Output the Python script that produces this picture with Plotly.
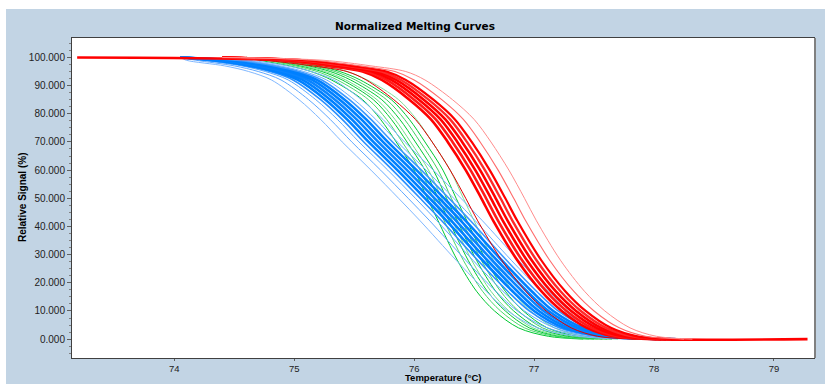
import plotly.graph_objects as go

LEVELS = [100, 99, 97, 95, 92, 85, 78, 70, 60, 50, 42, 28, 17, 10, 4, 1, 0]

# Temperatures (°C) at which each curve reaches the signal levels above
RED_CURVES = [
    [74.40, 74.75, 75.15, 75.44, 75.60, 75.83, 76.01, 76.15, 76.30, 76.43, 76.53, 76.73, 76.93, 77.10, 77.31, 77.53, 77.85],
    [73.19, 74.88, 75.28, 75.57, 75.73, 75.96, 76.14, 76.28, 76.43, 76.56, 76.66, 76.86, 77.06, 77.23, 77.44, 77.66, 77.98],
    [74.40, 74.92, 75.32, 75.61, 75.77, 76.00, 76.18, 76.32, 76.47, 76.60, 76.70, 76.90, 77.10, 77.27, 77.48, 77.70, 78.02],
    [74.40, 74.96, 75.36, 75.65, 75.81, 76.04, 76.22, 76.36, 76.51, 76.64, 76.74, 76.94, 77.14, 77.31, 77.52, 77.74, 78.06],
    [74.40, 75.00, 75.40, 75.69, 75.85, 76.08, 76.26, 76.40, 76.55, 76.68, 76.78, 76.98, 77.18, 77.35, 77.56, 77.78, 78.10],
    [74.40, 75.04, 75.44, 75.73, 75.89, 76.12, 76.30, 76.44, 76.59, 76.72, 76.82, 77.02, 77.22, 77.39, 77.60, 77.82, 78.14],
    [74.40, 75.08, 75.48, 75.77, 75.93, 76.16, 76.34, 76.48, 76.63, 76.76, 76.86, 77.06, 77.26, 77.43, 77.64, 77.86, 78.18],
    [74.40, 75.15, 75.55, 75.84, 76.00, 76.23, 76.41, 76.55, 76.70, 76.83, 76.93, 77.13, 77.33, 77.50, 77.71, 77.93, 78.25],
    [74.40, 75.24, 75.64, 75.93, 76.09, 76.32, 76.50, 76.64, 76.79, 76.92, 77.02, 77.22, 77.42, 77.59, 77.80, 78.02, 78.32],
]
RED_LONG_INDEX = 1       # this red curve stays at 0 % up to the tail below
RED_LONG_TAIL = 79.28

GREEN_CURVES = [
    [74.60, 74.71, 74.96, 75.14, 75.31, 75.57, 75.72, 75.85, 76.00, 76.11, 76.20, 76.36, 76.52, 76.67, 76.87, 77.12, 77.41],
    [74.60, 74.76, 75.01, 75.19, 75.36, 75.62, 75.77, 75.90, 76.05, 76.16, 76.25, 76.41, 76.57, 76.72, 76.92, 77.17, 77.46],
    [74.60, 74.80, 75.05, 75.23, 75.40, 75.66, 75.81, 75.94, 76.09, 76.20, 76.29, 76.45, 76.61, 76.76, 76.96, 77.21, 77.50],
    [74.60, 74.83, 75.08, 75.26, 75.43, 75.69, 75.84, 75.97, 76.12, 76.23, 76.32, 76.48, 76.64, 76.79, 76.99, 77.24, 77.53],
    [74.60, 74.87, 75.12, 75.30, 75.47, 75.73, 75.88, 76.01, 76.16, 76.27, 76.36, 76.52, 76.68, 76.83, 77.03, 77.28, 77.57],
    [74.60, 74.91, 75.16, 75.34, 75.51, 75.77, 75.92, 76.05, 76.20, 76.31, 76.40, 76.56, 76.72, 76.87, 77.07, 77.32, 77.61],
    [74.60, 74.95, 75.20, 75.38, 75.55, 75.81, 75.96, 76.09, 76.24, 76.35, 76.44, 76.60, 76.76, 76.91, 77.11, 77.36, 77.65],
    [74.60, 75.01, 75.26, 75.44, 75.61, 75.87, 76.02, 76.15, 76.30, 76.41, 76.50, 76.66, 76.82, 76.97, 77.17, 77.42, 77.70],
]

BLUE_LIGHT_CURVES = [
    [74.05, 74.10, 74.42, 74.62, 74.81, 75.04, 75.22, 75.40, 75.64, 75.87, 76.05, 76.35, 76.60, 76.78, 77.03, 77.36, 77.80],
    [74.05, 74.18, 74.50, 74.70, 74.89, 75.12, 75.30, 75.48, 75.72, 75.95, 76.13, 76.43, 76.68, 76.86, 77.11, 77.44, 77.88],
    [74.05, 74.62, 74.94, 75.14, 75.33, 75.56, 75.74, 75.92, 76.16, 76.39, 76.57, 76.87, 77.12, 77.30, 77.55, 77.88, 78.25],
]
BLUE_CURVES = [
    [74.05, 74.24, 74.56, 74.76, 74.95, 75.18, 75.36, 75.54, 75.78, 76.01, 76.19, 76.49, 76.74, 76.92, 77.17, 77.50, 77.94],
    [74.05, 74.28, 74.60, 74.80, 74.99, 75.22, 75.40, 75.58, 75.82, 76.05, 76.23, 76.53, 76.78, 76.96, 77.21, 77.54, 77.98],
    [74.05, 74.32, 74.64, 74.84, 75.03, 75.26, 75.44, 75.62, 75.86, 76.09, 76.27, 76.57, 76.82, 77.00, 77.25, 77.58, 78.02],
    [74.05, 74.36, 74.68, 74.88, 75.07, 75.30, 75.48, 75.66, 75.90, 76.13, 76.31, 76.61, 76.86, 77.04, 77.29, 77.62, 78.06],
    [74.05, 74.40, 74.72, 74.92, 75.11, 75.34, 75.52, 75.70, 75.94, 76.17, 76.35, 76.65, 76.90, 77.08, 77.33, 77.66, 78.10],
    [74.05, 74.44, 74.76, 74.96, 75.15, 75.38, 75.56, 75.74, 75.98, 76.21, 76.39, 76.69, 76.94, 77.12, 77.37, 77.70, 78.14],
    [74.05, 74.48, 74.80, 75.00, 75.19, 75.42, 75.60, 75.78, 76.02, 76.25, 76.43, 76.73, 76.98, 77.16, 77.41, 77.74, 78.18],
    [74.05, 74.52, 74.84, 75.04, 75.23, 75.46, 75.64, 75.82, 76.06, 76.29, 76.47, 76.77, 77.02, 77.20, 77.45, 77.78, 78.22],
    [74.05, 74.56, 74.88, 75.08, 75.27, 75.50, 75.68, 75.86, 76.10, 76.33, 76.51, 76.81, 77.06, 77.24, 77.49, 77.82, 78.24],
]

RED_STYLE = [("#E00000", 1.0), ("#FF0000", 2.6), ("#FF1A1A", 2.6), ("#FF0000", 2.6), ("#FF0000", 2.6),
             ("#FF2A2A", 2.4), ("#FF0000", 2.2), ("#FF6A6A", 1.1), ("#FF8C8C", 1.0)]
GREEN_STYLE = [("#00C832", 1.0), ("#4CD86C", 1.0), ("#00C832", 1.0), ("#70E08A", 1.0),
               ("#00C832", 1.0), ("#40D060", 1.0), ("#00C832", 1.0), ("#80E098", 1.0)]
BLUE_LIGHT_STYLE = [("#80B8FF", 1.0), ("#60A8FF", 1.0), ("#78B4FF", 1.0)]
BLUE_STYLE = [("#5AA8FF", 1.0), ("#2A90FF", 1.6), ("#0080FF", 2.6), ("#0080FF", 2.6), ("#0A84FF", 2.6),
              ("#0080FF", 2.6), ("#0080FF", 2.6), ("#3A98FF", 1.6), ("#6AB0FF", 1.0)]

fig = go.Figure()


def add_curve(temps, levels, color, width):
    fig.add_trace(go.Scatter(
        x=temps, y=levels, mode="lines",
        line=dict(color=color, width=width, shape="spline", smoothing=0.9),
        hoverinfo="skip", showlegend=False))


for temps, (c, w) in zip(GREEN_CURVES, GREEN_STYLE):
    add_curve(temps, LEVELS, c, w)
for temps, (c, w) in zip(BLUE_LIGHT_CURVES, BLUE_LIGHT_STYLE):
    add_curve(temps, LEVELS, c, w)
for temps, (c, w) in zip(BLUE_CURVES, BLUE_STYLE):
    add_curve(temps, LEVELS, c, w)
for i, (temps, (c, w)) in enumerate(zip(RED_CURVES, RED_STYLE)):
    if i == RED_LONG_INDEX:
        add_curve(temps + [RED_LONG_TAIL], LEVELS + [0], c, w)
    else:
        add_curve(temps, LEVELS, c, w)

W, H = 825, 384
L, R, T, B = 72, 814, 38, 358
PANEL = "#C2D4E4"


def px(xp):
    return (xp - L) / (R - L)


def py(yp):
    return (B - yp) / (B - T)


fig.update_layout(
    width=W, height=H,
    margin=dict(l=L, r=W - R, t=T, b=H - B, autoexpand=False),
    paper_bgcolor=PANEL, plot_bgcolor="white",
    font=dict(family="Liberation Sans, Arial, sans-serif", size=10, color="#222222"),
    title=dict(text="<b>Normalized Melting Curves</b>", x=415 / W, y=(H - 26) / H,
               xref="container", yref="container", xanchor="center", yanchor="middle",
               font=dict(family="DejaVu Sans, sans-serif", size=10.5, color="#000000")),
    xaxis=dict(range=[73.147, 79.334], tickvals=[74, 75, 76, 77, 78, 79], automargin=False,
               showgrid=False, zeroline=False, showline=True, linecolor="#404040", linewidth=1,
               mirror=True, ticks="outside", ticklen=2, tickcolor="#606060",
               tickfont=dict(size=9.5, color="#222222")),
    yaxis=dict(range=[-6.7, 106.9], tickvals=list(range(0, 101, 10)), tickformat=".3f",
               automargin=False,
               showgrid=False, zeroline=False, showline=True, linecolor="#404040", linewidth=1,
               mirror=True, ticks="outside", ticklen=4, tickcolor="#606060",
               tickfont=dict(size=10, color="#222222"),
               minor=dict(dtick=2.5, ticks="outside", ticklen=2, tickcolor="#808080")),
    shapes=[
        dict(type="rect", xref="paper", yref="paper", x0=px(0), x1=px(W), y0=py(9), y1=py(0),
             fillcolor="white", line=dict(width=0), layer="below"),
        dict(type="rect", xref="paper", yref="paper", x0=px(0), x1=px(6), y0=py(H), y1=py(0),
             fillcolor="white", line=dict(width=0), layer="below"),
        dict(type="line", xref="paper", yref="paper", x0=px(815), x1=px(815), y0=py(358), y1=py(38),
             line=dict(color="#808080", width=2)),
    ],
    annotations=[
        dict(text="<b>Relative Signal (%)</b>", xref="paper", yref="paper", x=px(22), y=py(198),
             textangle=-90, showarrow=False, xanchor="center", yanchor="middle",
             font=dict(size=10, color="#000000")),
        dict(text="<b>Temperature (°C)</b>", xref="paper", yref="paper", x=0.5, y=py(383.8),
             showarrow=False, xanchor="center", yanchor="bottom", borderpad=0,
             font=dict(size=9.5, color="#000000")),
    ],
)

fig.write_html("out.html")
